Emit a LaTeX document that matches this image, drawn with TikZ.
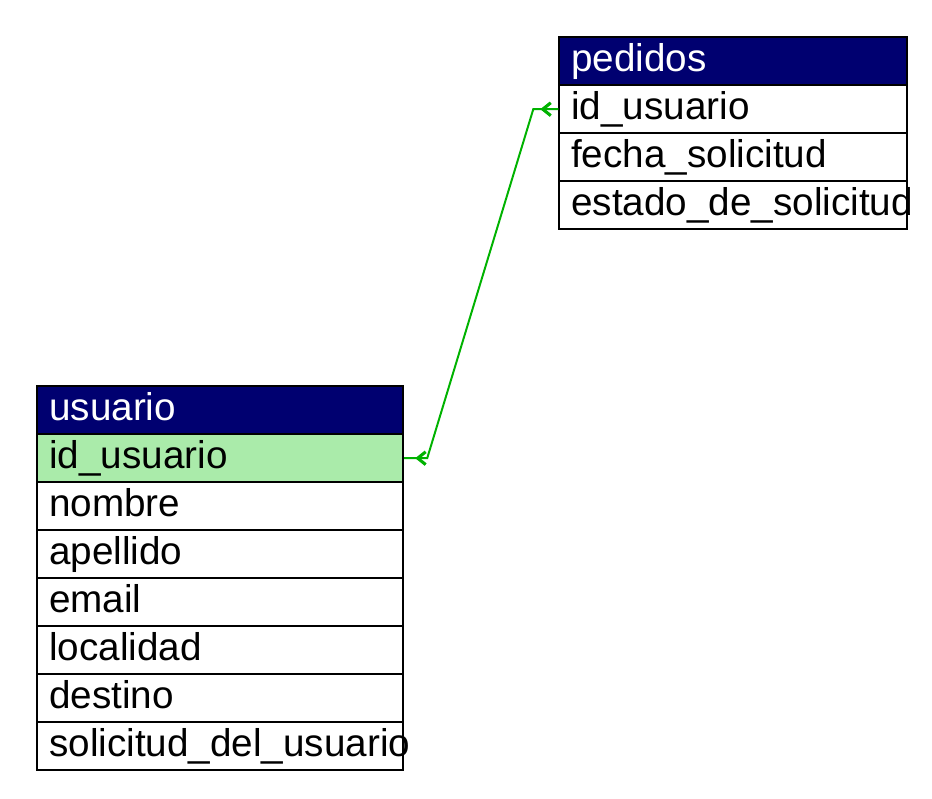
\documentclass[tikz,border=0pt]{standalone}
\usepackage{fontspec}
\setmainfont{Liberation Sans}
\usepackage{tikz}
\usetikzlibrary{matrix,arrows.meta,decorations.markings}

\definecolor{headblue}{RGB}{0,0,112}
\definecolor{keygreen}{RGB}{170,235,170}
\definecolor{linkgreen}{RGB}{0,178,0}

\hyphenpenalty=10000

\tikzset{
    field/.style={draw=black, line width=1.3pt, fill=white, align=left, inner xsep=0.3cm, inner ysep=0pt,
        text height=0.85cm, text depth=0.35cm, font=\fontsize{27.5}{32}\selectfont},
    header/.style={fill=headblue, text=white},
    keyfield/.style={fill=keygreen},
    link/.style={draw=linkgreen, line width=1.4pt, postaction={decorate}},
    barb/.tip={Straight Barb[length=0.2cm, width=0.32cm, line width=2.2pt]},
}

\begin{document}
\begin{tikzpicture}[x=0.025cm, y=-0.025cm]
    \useasboundingbox (0,0) rectangle (932,799);

    \matrix [matrix of nodes, row sep=-1.3pt, inner sep=0pt, anchor=north west,
        nodes={field, text width=8.1cm}, row 1/.style={nodes={header}}] (pedidos) at (558,36)
    {
        pedidos \\
        id\_usuario \\
        fecha\_solicitud \\
        estado\_de\_solicitud \\
    };

    \matrix [matrix of nodes, row sep=-1.3pt, inner sep=0pt, anchor=north west,
        nodes={field, text width=8.55cm}, row 1/.style={nodes={header}}, row 2/.style={nodes={keyfield}}] (usuario) at (36,385)
    {
        usuario \\
        id\_usuario \\
        nombre \\
        apellido \\
        email \\
        localidad \\
        destino \\
        solicitud\_del\_usuario \\
    };

    % usuario.id_usuario -- pedidos.id_usuario
    \draw [link, decoration={markings,
            mark=at position 0.275cm with {\arrowreversed{barb}},
            mark=at position -0.45cm with {\arrowreversed{barb}}}]
        (usuario-2-1.east) -- ([shift={(23,0)}]usuario-2-1.east)
        -- ([shift={(-25,0)}]pedidos-2-1.west) -- (pedidos-2-1.west);

\end{tikzpicture}
\end{document}
